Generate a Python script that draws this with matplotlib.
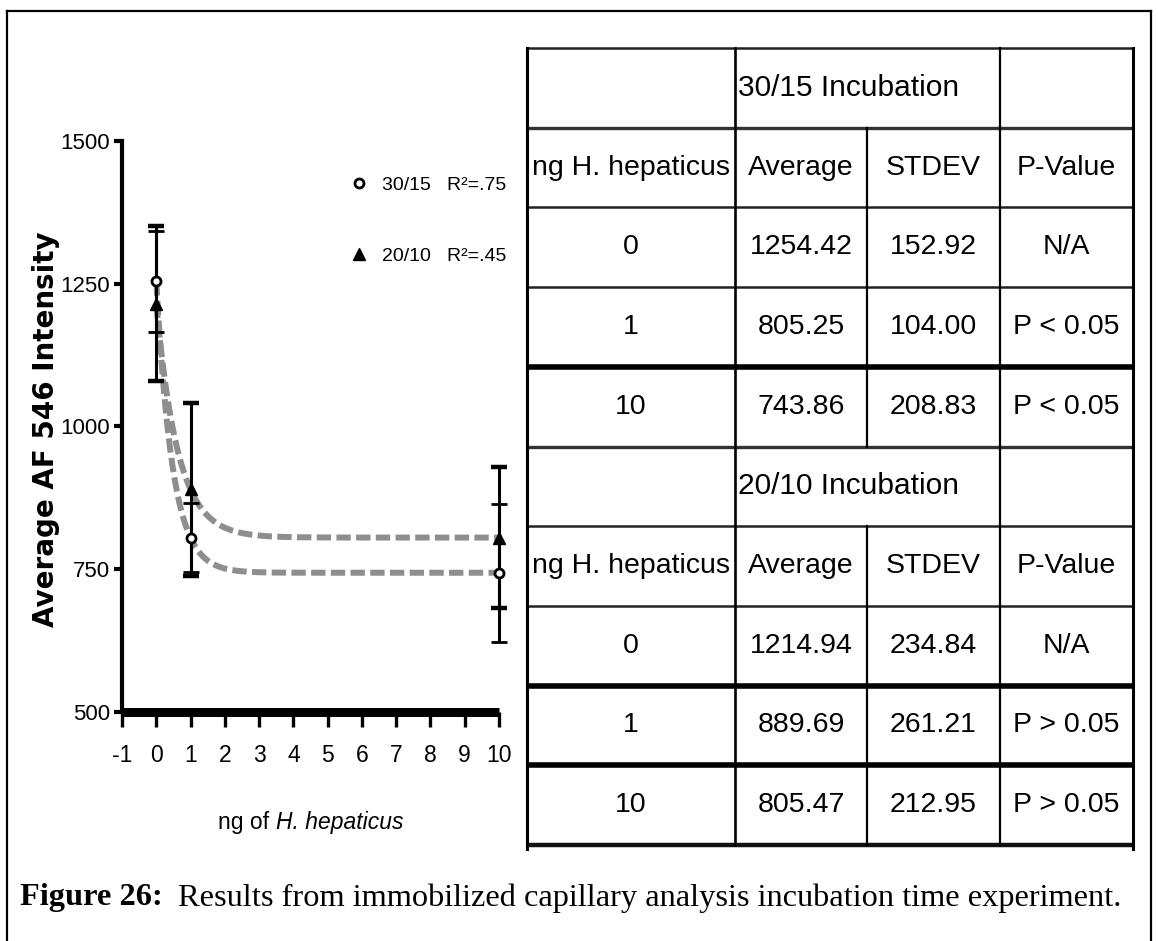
import numpy as np
import matplotlib
matplotlib.use("Agg")
import matplotlib.pyplot as plt
from matplotlib.lines import Line2D
from matplotlib.font_manager import FontProperties

# ---------------- data ----------------
ng_amounts = [0, 1, 10]
avg_3015 = [1254.42, 805.25, 743.86]
sd_3015 = [152.92, 104.00, 208.83]
p_3015 = ["N/A", "P < 0.05", "P < 0.05"]
avg_2010 = [1214.94, 889.69, 805.47]
sd_2010 = [234.84, 261.21, 212.95]
p_2010 = ["N/A", "P > 0.05", "P > 0.05"]
n_reps = 3
r2_labels = ["30/15   R²=.75", "20/10   R²=.45"]
x_ticks = list(range(-1, 11))
y_ticks = [500, 750, 1000, 1250, 1500]
table_headers = ["ng H. hepaticus", "Average", "STDEV", "P-Value"]
table_titles = ["30/15 Incubation", "20/10 Incubation"]
xlabel_parts = ["ng of ", "H. hepaticus"]

SANS = ['Liberation Sans', 'DejaVu Sans']
plt.rcParams['axes.unicode_minus'] = False

W, H = 1158, 941
fig = plt.figure(figsize=(W / 100, H / 100), dpi=100)

# ---------------- background frame & caption ----------------
bg = fig.add_axes([0, 0, 1, 1], zorder=-5)
bg.set_xlim(0, W)
bg.set_ylim(H, 0)
bg.axis('off')
bg.plot([7, 7], [11, H + 5], color='black', lw=1.6, clip_on=False)
bg.plot([7, 1151], [11, 11], color='black', lw=1.6, clip_on=False)
bg.plot([1151, 1151], [11, H + 5], color='black', lw=1.6, clip_on=False)

t1 = bg.text(20, 898, "Figure 26:", family=['Liberation Serif'], weight='bold',
             fontsize=23.3, va='center', ha='left')
fig.canvas.draw()
renderer = fig.canvas.get_renderer()
x_end = t1.get_window_extent(renderer).x1
bg.text(x_end + 15, 898, "Results from immobilized capillary analysis incubation time experiment.",
        family=['Liberation Serif'], fontsize=23.3, va='center', ha='left')

# ---------------- plot ----------------
ax_l, ax_r, ax_t, ax_b = 122, 499, 141, 712
ax = fig.add_axes([ax_l / W, 1 - ax_b / H, (ax_r - ax_l) / W, (ax_b - ax_t) / H])
ax.set_xlim(-1, 10)
ax.set_ylim(500, 1500)
for s in ['top', 'right']:
    ax.spines[s].set_visible(False)
ax.spines['left'].set_linewidth(3.0)
ax.spines['bottom'].set_linewidth(6.5)
ax.spines['bottom'].set_capstyle('butt')
ax.set_xticks(x_ticks)
ax.set_yticks(y_ticks)
ax.tick_params(axis='y', length=5.5, width=3, pad=3, labelsize=16)
ax.tick_params(axis='x', length=11, width=2.4, pad=12, labelsize=16.5)
for lab in ax.get_xticklabels() + ax.get_yticklabels():
    lab.set_family(SANS)

# fitted one-phase decay curves (from the three points of each series)
xf = np.linspace(0, 10, 300)
for avg in (avg_3015, avg_2010):
    y0, y1, y10 = avg
    plateau = y10
    k = -np.log((y1 - plateau) / (y0 - plateau))
    yf = plateau + (y0 - plateau) * np.exp(-k * xf)
    ax.plot(xf, yf, color='#8e8e8e', lw=4.3, dashes=(2.4, 0.9), zorder=2,
            dash_capstyle='butt')

sem_3015 = np.array(sd_3015) / np.sqrt(n_reps)
sem_2010 = np.array(sd_2010) / np.sqrt(n_reps)
eb1 = ax.errorbar(ng_amounts, avg_2010, yerr=sem_2010, fmt='^', color='black', ms=9,
                  elinewidth=2.2, capsize=5.5, capthick=3.2, zorder=4)
eb2 = ax.errorbar(ng_amounts, avg_3015, yerr=sem_3015, fmt='o', mfc='white', mec='black',
                  ecolor='black', ms=6.5, mew=2, elinewidth=2.2, capsize=5.5, capthick=3.2,
                  zorder=5)
for eb in (eb1, eb2):
    for child in eb.get_children():
        child.set_clip_on(False)

handles = [Line2D([], [], marker='o', mfc='white', mec='black', mew=2, ms=6.5, ls='none'),
           Line2D([], [], marker='^', color='black', ms=9, ls='none')]
ax.legend(handles, r2_labels, prop=FontProperties(family=SANS, size=14),
          frameon=False, loc='upper left',
          bbox_to_anchor=((349 - ax_l) / (ax_r - ax_l), 1 - (176 - ax_t) / (ax_b - ax_t)),
          borderpad=0, borderaxespad=0, handlelength=1.0, handletextpad=0.7,
          labelspacing=2.75)

ax.set_ylabel("Average AF 546 Intensity", family=['DejaVu Sans'], weight='bold', fontsize=20)
ax.yaxis.set_label_coords((60 - ax_l) / (ax_r - ax_l), (ax_b - 429) / (ax_b - ax_t))

# x-axis label: regular + italic parts, centred under the axis
xl_y = 822
xa = bg.text(0, xl_y, xlabel_parts[0], family=SANS, fontsize=16.5, va='center', ha='left')
xb = bg.text(0, xl_y, xlabel_parts[1], family=SANS, style='italic', fontsize=16.5,
             va='center', ha='left')
wa = xa.get_window_extent(renderer).width
wb = xb.get_window_extent(renderer).width
x_start = (ax_l + ax_r) / 2 - (wa + wb) / 2
xa.set_x(x_start)
xb.set_x(x_start + wa)

# ---------------- table ----------------
t_l, t_r, t_t, t_b = 527, 1133, 48, 845
col_w = [208, 132, 133, 133]
col_edges = np.concatenate([[0], np.cumsum(col_w)])
n_rows = 10
tab = fig.add_axes([t_l / W, 1 - t_b / H, (t_r - t_l) / W, (t_b - t_t) / H])
tab.set_xlim(0, col_edges[-1])
tab.set_ylim(n_rows, 0)
tab.axis('off')

thick_rows = {4, 8, 9}
for r in range(0, n_rows + 1):
    if r in thick_rows:
        lw, c = 4.0, 'black'
    elif r == n_rows:
        lw, c = 3.2, '#111111'
    elif r in (1, 5):
        lw, c = 2.4, '#333333'
    else:
        lw, c = 1.8, '#222222'
    tab.plot([0, col_edges[-1]], [r, r], color=c, lw=lw, clip_on=False, solid_capstyle='butt')
tab.plot([0, 0], [0, n_rows + 0.05], color='black', lw=2.2, clip_on=False)
tab.plot([col_edges[1]] * 2, [0, n_rows], color='black', lw=1.9, clip_on=False)
tab.plot([col_edges[3]] * 2, [0, n_rows], color='black', lw=1.6, clip_on=False)
tab.plot([col_edges[4]] * 2, [0, n_rows + 0.05], color='black', lw=2.2, clip_on=False)
for seg in ((1, 5), (6, 10)):
    tab.plot([col_edges[2]] * 2, list(seg), color='black', lw=1.6, clip_on=False)

fs_tab = 20.5
centers = (col_edges[:-1] + col_edges[1:]) / 2
blocks = [(0, table_titles[0], avg_3015, sd_3015, p_3015),
          (5, table_titles[1], avg_2010, sd_2010, p_2010)]
for r0, title, avg, sd, pv in blocks:
    tab.text(col_edges[1] + 3, r0 + 0.5, title, family=SANS, fontsize=fs_tab + 1,
             ha='left', va='center')
    for j, h in enumerate(table_headers):
        tab.text(centers[j], r0 + 1.5, h, family=SANS, fontsize=fs_tab, ha='center', va='center')
    for i in range(3):
        row = r0 + 2 + i + 0.5
        vals = [str(ng_amounts[i]), f"{avg[i]:.2f}", f"{sd[i]:.2f}", pv[i]]
        for j, v in enumerate(vals):
            tab.text(centers[j], row, v, family=SANS, fontsize=fs_tab, ha='center', va='center')

fig.savefig("out.png", dpi=100)
